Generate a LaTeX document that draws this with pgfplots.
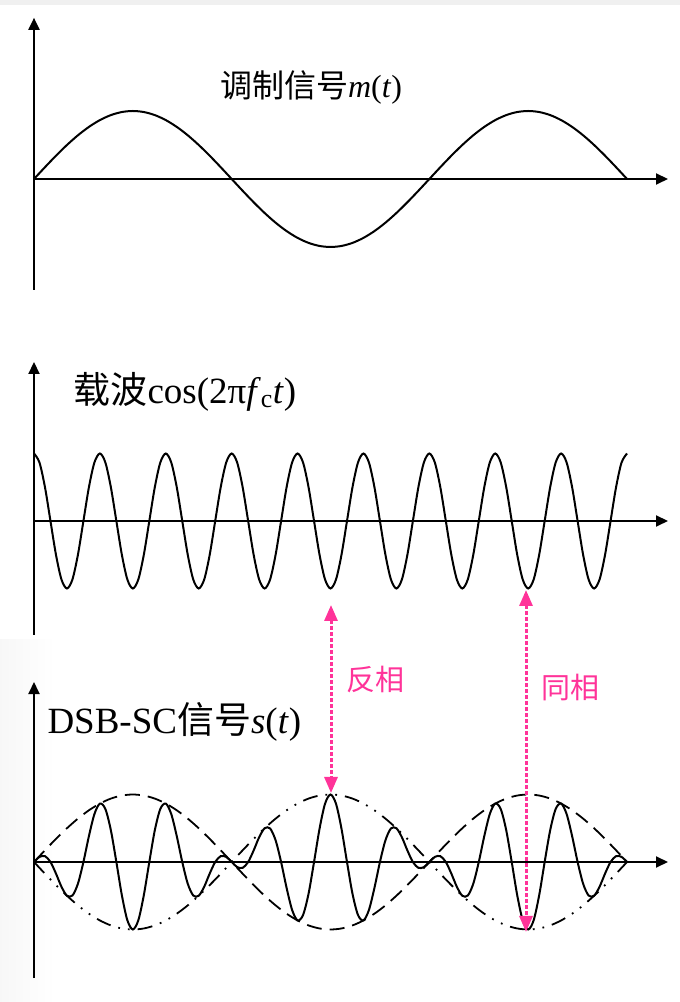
\documentclass[border=0pt]{standalone}
\usepackage{pgfplots}
\pgfplotsset{compat=1.18}
\usepackage{pgfplotstable}
\usetikzlibrary{arrows.meta}
\usepackage{fontspec}
\setmainfont{Liberation Serif}
\newfontfamily\cjk{Noto Sans CJK SC}
\definecolor{hotpink}{RGB}{255,51,153}

% message m(t) = sin, x in degrees of the message phase; n = -m
\pgfplotstableread{
x m n
0 0 0
10 0.1736 -0.1736
20 0.3420 -0.3420
30 0.5 -0.5
40 0.6428 -0.6428
50 0.7660 -0.7660
60 0.8660 -0.8660
70 0.9397 -0.9397
80 0.9848 -0.9848
90 1 -1
100 0.9848 -0.9848
110 0.9397 -0.9397
120 0.8660 -0.8660
130 0.7660 -0.7660
140 0.6428 -0.6428
150 0.5 -0.5
160 0.3420 -0.3420
170 0.1736 -0.1736
180 0 0
190 -0.1736 0.1736
200 -0.3420 0.3420
210 -0.5 0.5
220 -0.6428 0.6428
230 -0.7660 0.7660
240 -0.8660 0.8660
250 -0.9397 0.9397
260 -0.9848 0.9848
270 -1 1
280 -0.9848 0.9848
290 -0.9397 0.9397
300 -0.8660 0.8660
310 -0.7660 0.7660
320 -0.6428 0.6428
330 -0.5 0.5
340 -0.3420 0.3420
350 -0.1736 0.1736
360 0 0
370 0.1736 -0.1736
380 0.3420 -0.3420
390 0.5 -0.5
400 0.6428 -0.6428
410 0.7660 -0.7660
420 0.8660 -0.8660
430 0.9397 -0.9397
440 0.9848 -0.9848
450 1 -1
460 0.9848 -0.9848
470 0.9397 -0.9397
480 0.8660 -0.8660
490 0.7660 -0.7660
500 0.6428 -0.6428
510 0.5 -0.5
520 0.3420 -0.3420
530 0.1736 -0.1736
540 0 0
}\msgtable

% carrier cos(2 pi fc t), fc = 6 fm
\pgfplotstableread{
x c
0 1
5 0.866
10 0.5
15 0
20 -0.5
25 -0.866
30 -1
35 -0.866
40 -0.5
45 0
50 0.5
55 0.866
60 1
65 0.866
70 0.5
75 0
80 -0.5
85 -0.866
90 -1
95 -0.866
100 -0.5
105 0
110 0.5
115 0.866
120 1
125 0.866
130 0.5
135 0
140 -0.5
145 -0.866
150 -1
155 -0.866
160 -0.5
165 0
170 0.5
175 0.866
180 1
185 0.866
190 0.5
195 0
200 -0.5
205 -0.866
210 -1
215 -0.866
220 -0.5
225 0
230 0.5
235 0.866
240 1
245 0.866
250 0.5
255 0
260 -0.5
265 -0.866
270 -1
275 -0.866
280 -0.5
285 0
290 0.5
295 0.866
300 1
305 0.866
310 0.5
315 0
320 -0.5
325 -0.866
330 -1
335 -0.866
340 -0.5
345 0
350 0.5
355 0.866
360 1
365 0.866
370 0.5
375 0
380 -0.5
385 -0.866
390 -1
395 -0.866
400 -0.5
405 0
410 0.5
415 0.866
420 1
425 0.866
430 0.5
435 0
440 -0.5
445 -0.866
450 -1
455 -0.866
460 -0.5
465 0
470 0.5
475 0.866
480 1
485 0.866
490 0.5
495 0
500 -0.5
505 -0.866
510 -1
515 -0.866
520 -0.5
525 0
530 0.5
535 0.866
540 1
}\cartable

% DSB-SC s(t) = m(t) cos(2 pi fc t)
\pgfplotstableread{
x s
0 0
5 0.0755
10 0.0868
15 0
20 -0.1710
25 -0.3660
30 -0.5
35 -0.4967
40 -0.3214
45 0
50 0.3830
55 0.7094
60 0.8660
65 0.7849
70 0.4699
75 0
80 -0.4924
85 -0.8627
90 -1
95 -0.8627
100 -0.4924
105 0
110 0.4699
115 0.7849
120 0.8660
125 0.7094
130 0.3830
135 0
140 -0.3214
145 -0.4967
150 -0.5
155 -0.3660
160 -0.1710
165 0
170 0.0868
175 0.0755
180 0
185 -0.0755
190 -0.0868
195 0
200 0.1710
205 0.3660
210 0.5
215 0.4967
220 0.3214
225 0
230 -0.3830
235 -0.7094
240 -0.8660
245 -0.7849
250 -0.4699
255 0
260 0.4924
265 0.8627
270 1
275 0.8627
280 0.4924
285 0
290 -0.4699
295 -0.7849
300 -0.8660
305 -0.7094
310 -0.3830
315 0
320 0.3214
325 0.4967
330 0.5
335 0.3660
340 0.1710
345 0
350 -0.0868
355 -0.0755
360 0
365 0.0755
370 0.0868
375 0
380 -0.1710
385 -0.3660
390 -0.5
395 -0.4967
400 -0.3214
405 0
410 0.3830
415 0.7094
420 0.8660
425 0.7849
430 0.4699
435 0
440 -0.4924
445 -0.8627
450 -1
455 -0.8627
460 -0.4924
465 0
470 0.4699
475 0.7849
480 0.8660
485 0.7094
490 0.3830
495 0
500 -0.3214
505 -0.4967
510 -0.5
515 -0.3660
520 -0.1710
525 0
530 0.0868
535 0.0755
540 0
}\dsbtable

\pgfplotsset{
  panel/.style={
    scale only axis, width=634pt, xmin=0, xmax=577.3,
    axis lines=middle,
    axis line style={line width=2pt},
    x axis line style={-{Triangle[length=12pt,width=11pt]}},
    y axis line style={-{Triangle[length=12pt,width=11pt]}},
    xtick=\empty, ytick=\empty, clip=false, anchor=origin,
  },
  sig/.style={black, line width=2pt, smooth, no marks},
}

\begin{document}
\begin{tikzpicture}
\useasboundingbox (0pt,0pt) rectangle (680pt,1002pt);
\fill[black!6] (0pt,997pt) rectangle (680pt,1002pt);
\shade[left color=black!3, right color=white] (0pt,0pt) rectangle (55pt,362pt);

% panel 1: message
\begin{axis}[panel, height=272pt, ymin=-1.63, ymax=2.37, at={(34pt,823pt)}]
\addplot[sig] table[x=x,y=m]{\msgtable};
\end{axis}

% panel 2: carrier
\begin{axis}[panel, height=273pt, ymin=-1.689, ymax=2.356, at={(34pt,481pt)}]
\addplot[sig] table[x=x,y=c]{\cartable};
\end{axis}

% panel 3: DSB-SC
\begin{axis}[panel, height=296pt, ymin=-1.719, ymax=2.667, at={(34pt,140pt)}]
\addplot[black, line width=1.8pt, smooth, no marks, dash pattern=on 15pt off 8pt] table[x=x,y=m]{\msgtable};
\addplot[black, line width=1.8pt, smooth, no marks, dash pattern=on 15pt off 8pt on 1.8pt off 8pt on 1.8pt off 8pt] table[x=x,y=n]{\msgtable};
\addplot[sig] table[x=x,y=s]{\dsbtable};
\end{axis}

% titles
\node[font=\fontsize{32}{38}\selectfont] at (311pt,915pt) {{\cjk 调制信号}\textit{m}(\textit{t})};
\node[anchor=west, font=\fontsize{37}{44}\selectfont] at (70pt,610pt) {{\cjk 载波}cos(2π\textit{f}\textsubscript{c}\textit{t})};
\node[anchor=west, font=\fontsize{37}{44}\selectfont] at (44pt,280pt) {DSB-SC{\cjk 信号}\textit{s}(\textit{t})};

% phase annotations
\draw[hotpink, line width=3pt, dash pattern=on 3.5pt off 2.5pt,
  {Triangle[length=16pt,width=13pt]}-{Triangle[length=16pt,width=13pt]}]
  (331pt,397pt) -- (331pt,209pt);
\draw[hotpink, line width=3pt, dash pattern=on 3.5pt off 2.5pt,
  {Triangle[length=16pt,width=13pt]}-{Triangle[length=16pt,width=13pt]}]
  (526pt,412pt) -- (526pt,70pt);
\node[text=hotpink, font=\cjk\fontsize{29}{34}\selectfont] at (375pt,322pt) {反相};
\node[text=hotpink, font=\cjk\fontsize{29}{34}\selectfont] at (570pt,314pt) {同相};
\end{tikzpicture}
\end{document}
